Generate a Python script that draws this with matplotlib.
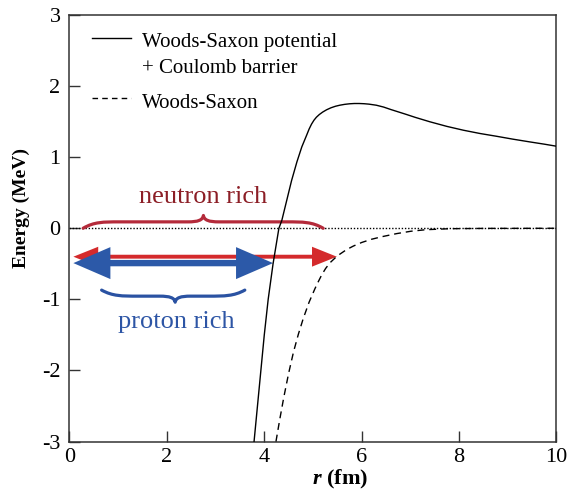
import numpy as np
import matplotlib
matplotlib.use("Agg")
import matplotlib.pyplot as plt
from matplotlib.path import Path
from matplotlib.patches import PathPatch, Polygon
from matplotlib.lines import Line2D

# Woods-Saxon potential + Coulomb barrier (solid curve)
r_ws_coul = [3.79, 3.86, 3.93, 4.00, 4.08, 4.18, 4.30, 4.36, 4.46, 4.56, 4.67,
             4.77, 4.87, 4.92, 4.97, 5.02, 5.07, 5.13, 5.20, 5.28, 5.37, 5.46,
             5.55, 5.65, 5.75, 5.85, 5.95, 6.05, 6.15, 6.30, 6.45, 6.60, 6.72,
             6.90, 7.10, 7.40, 7.75, 8.09, 8.43, 8.77, 9.10, 9.46, 9.75, 10.0]
e_ws_coul = [-3.0, -2.5, -2.0, -1.5, -1.0, -0.5, 0.0, 0.11, 0.39, 0.67, 0.934,
             1.144, 1.31, 1.395, 1.465, 1.52, 1.562, 1.60, 1.635, 1.667, 1.695, 1.716,
             1.731, 1.743, 1.751, 1.755, 1.755, 1.752, 1.746, 1.731, 1.705, 1.67, 1.644,
             1.605, 1.56, 1.498, 1.433, 1.379, 1.333, 1.294, 1.254, 1.214, 1.183, 1.154]

# Woods-Saxon potential only (dashed curve)
r_ws = [4.24, 4.32, 4.40, 4.50, 4.60, 4.70, 4.80, 4.92, 5.04, 5.11, 5.18, 5.26,
        5.35, 5.45, 5.55, 5.69, 5.83, 6.00, 6.20, 6.42, 6.72, 7.01, 7.32, 7.82,
        8.50, 10.0]
e_ws = [-3.0, -2.68, -2.38, -2.04, -1.74, -1.49, -1.27, -1.04, -0.85, -0.75,
        -0.655, -0.565, -0.485, -0.42, -0.365, -0.30, -0.25, -0.20, -0.155,
        -0.118, -0.075, -0.042, -0.02, -0.006, -0.002, 0.0]

# Extent of bound states for each nucleus type: (r_start, r_end, energy)
neutron_span = (0.08, 5.49, -0.40)
proton_span = (0.08, 4.18, -0.49)

x_ticks = [0, 2, 4, 6, 8, 10]
y_ticks = [-3, -2, -1, 0, 1, 2, 3]

plt.rcParams["font.family"] = ["Liberation Serif", "DejaVu Serif"]
plt.rcParams["axes.unicode_minus"] = False
plt.rcParams["mathtext.fontset"] = "custom"
plt.rcParams["mathtext.rm"] = "Liberation Serif"
plt.rcParams["mathtext.it"] = "Liberation Serif:italic"
plt.rcParams["mathtext.bf"] = "Liberation Serif:bold"
plt.rcParams["mathtext.bfit"] = "Liberation Serif:italic:bold"

fig = plt.figure(figsize=(5.70, 4.92), dpi=100)
ax = fig.add_axes([0.1219, 0.1026, 0.8544, 0.8669])

RED_TEXT = "#8c1e26"
RED_BRACE = "#b42a3a"
RED_ARROW = "#d42a2c"
BLUE_ARROW = "#2c59a8"
BLUE_BRACE = "#2a52a2"
BLUE_TEXT = "#2d55a5"

# zero-energy reference
ax.axhline(0, color="black", lw=1.0, ls=(0, (1, 1.3)), zorder=2)

ax.plot(r_ws_coul, e_ws_coul, color="black", lw=1.0, zorder=6)
ax.plot(r_ws, e_ws, color="black", lw=1.0, ls=(0, (5, 3.5)), zorder=6)


def brace(x0, x1, y0, h, xm, color, lw):
    """Horizontal curly brace from x0 to x1 at y0, tip at xm, tip offset h."""
    s = 0.5 * h
    a = 0.75
    b = 0.32
    verts = [
        (x0, y0),
        (x0 + 0.3 * a, y0 + s), (x0 + 0.55 * a, y0 + s), (x0 + a, y0 + s),
        (xm - b, y0 + s),
        (xm - 0.35 * b, y0 + s), (xm - 0.05 * b, y0 + s + 0.25 * (h - s)), (xm, y0 + h),
        (xm + 0.05 * b, y0 + s + 0.25 * (h - s)), (xm + 0.35 * b, y0 + s), (xm + b, y0 + s),
        (x1 - a, y0 + s),
        (x1 - 0.55 * a, y0 + s), (x1 - 0.3 * a, y0 + s), (x1, y0),
    ]
    codes = [Path.MOVETO,
             Path.CURVE4, Path.CURVE4, Path.CURVE4,
             Path.LINETO,
             Path.CURVE4, Path.CURVE4, Path.CURVE4,
             Path.CURVE4, Path.CURVE4, Path.CURVE4,
             Path.LINETO,
             Path.CURVE4, Path.CURVE4, Path.CURVE4]
    ax.add_patch(PathPatch(Path(verts, codes), fc="none", ec=color, lw=lw,
                           capstyle="round", joinstyle="round", zorder=3))


def double_arrow(span, shaft, head_len, head_h, color, z):
    x0, x1, y = span
    verts = [
        (x0, y),
        (x0 + head_len, y + head_h / 2),
        (x0 + head_len, y + shaft / 2),
        (x1 - head_len, y + shaft / 2),
        (x1 - head_len, y + head_h / 2),
        (x1, y),
        (x1 - head_len, y - head_h / 2),
        (x1 - head_len, y - shaft / 2),
        (x0 + head_len, y - shaft / 2),
        (x0 + head_len, y - head_h / 2),
    ]
    ax.add_patch(Polygon(verts, closed=True, fc=color, ec="none", zorder=z))


brace(0.28, 5.21, 0.0, 0.18, 2.75, RED_BRACE, 2.3)
double_arrow(neutron_span, 0.055, 0.51, 0.28, RED_ARROW, 4)
double_arrow(proton_span, 0.09, 0.76, 0.45, BLUE_ARROW, 5)
brace(0.66, 3.60, -0.87, -0.17, 2.17, BLUE_BRACE, 2.3)

ax.text(2.75, 0.35, "neutron rich", color=RED_TEXT, fontsize=19,
        ha="center", va="baseline", zorder=7)
ax.text(2.20, -1.41, "proton rich", color=BLUE_TEXT, fontsize=19,
        ha="center", va="baseline", zorder=7)

# legend drawn in axes coordinates
ax.add_line(Line2D([0.0456, 0.1257], [0.9454, 0.9454], transform=ax.transAxes,
                   color="black", lw=1.0))
ax.add_line(Line2D([0.0456, 0.1257], [0.8047, 0.8047], transform=ax.transAxes,
                   color="black", lw=1.0, ls=(0, (4, 3))))
ax.text(0.148, 0.9257, "Woods-Saxon potential", transform=ax.transAxes,
        fontsize=15, va="baseline", ha="left")
ax.text(0.148, 0.8633, "+ Coulomb barrier", transform=ax.transAxes,
        fontsize=15, va="baseline", ha="left")
ax.text(0.148, 0.7812, "Woods-Saxon", transform=ax.transAxes,
        fontsize=15, va="baseline", ha="left")

ax.set_xlim(0, 10)
ax.set_ylim(-3, 3)
ax.set_xticks(x_ticks)
ax.set_yticks(y_ticks)
ax.set_xticklabels([str(v) for v in x_ticks])
ax.set_yticklabels([str(v) for v in y_ticks])
ax.tick_params(direction="in", length=8, width=1.0, labelsize=16,
               top=False, right=False, color="#333333")
ax.tick_params(axis="y", pad=6.5)
ax.tick_params(axis="x", pad=4.5)
for sp in ax.spines.values():
    sp.set_linewidth(1.1)
    sp.set_color("#333333")

ax.set_xlabel(r"$\mathbfit{r}$ (fm)", fontsize=16, fontweight="bold")
ax.set_ylabel("Energy (MeV)", fontsize=14, fontweight="bold")
ax.xaxis.set_label_coords(0.555, -0.09)
ax.xaxis.label.set_va("center")
ax.yaxis.set_label_coords(-0.098, 0.5475)
ax.yaxis.label.set_va("center")

fig.savefig("out.png", dpi=100)
